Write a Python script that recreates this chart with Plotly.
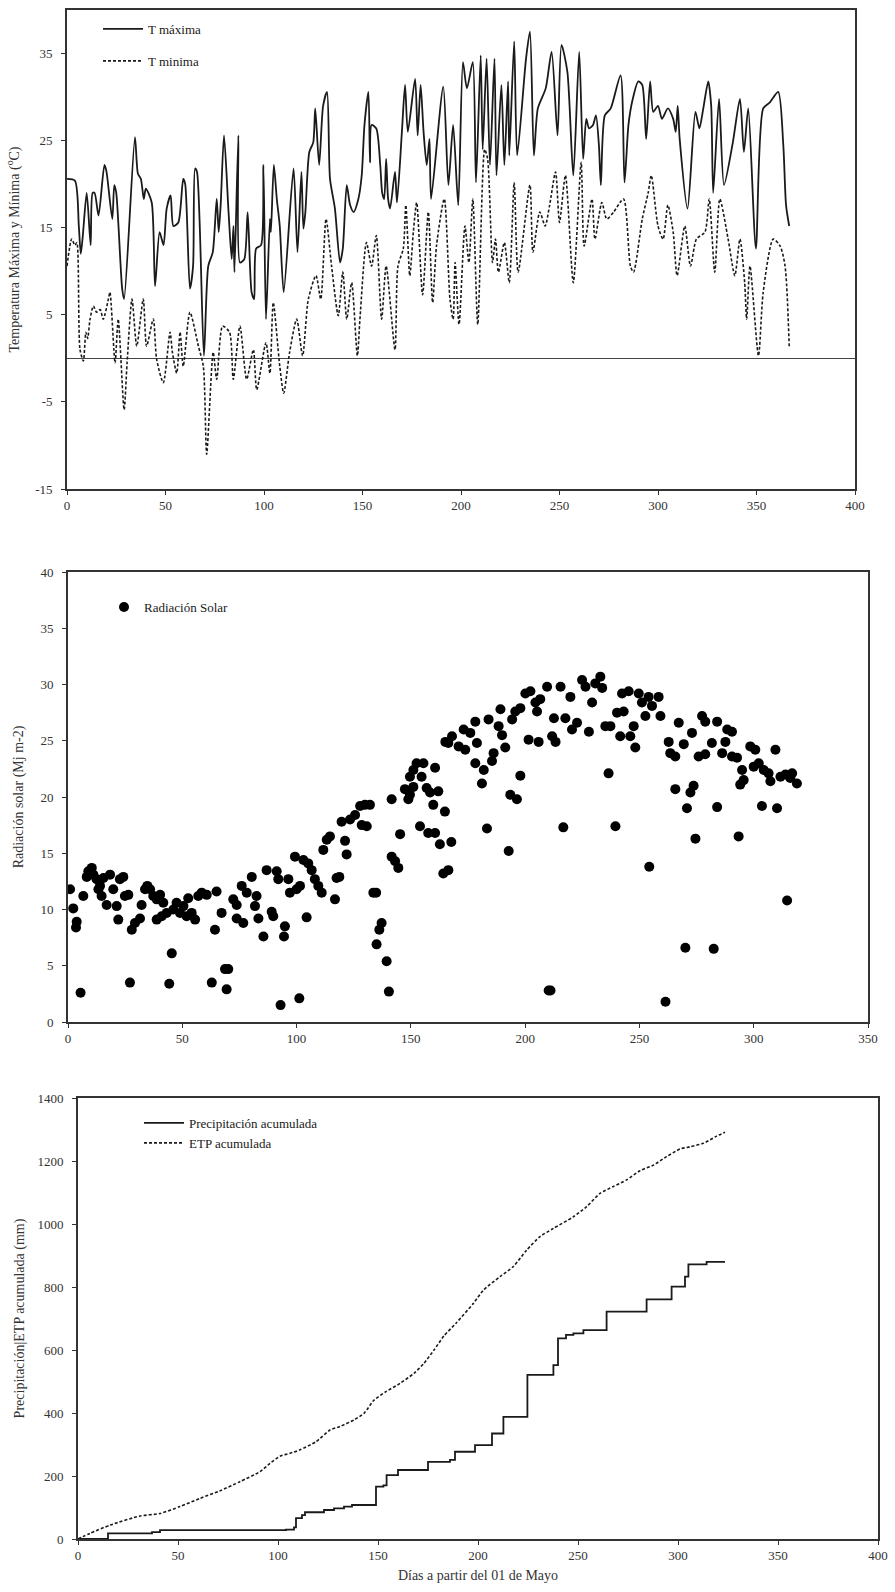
import plotly.graph_objects as go

# ---------------- Data ----------------
tmax_day = [0,4,6,7,8,10,12,13,14,16,19,20,23,24,25,28,29,34.5,36,37.5,39,40,43,44.7,47,49,50.6,52.6,54,56.5,59,60,62.4,64,65,66,69.5,71.7,74,76,77,78,79.7,82,83.6,84.5,85,87,87.8,90,91.7,93.7,95,96,98.5,99.7,101,103,103.5,105,106.5,108,110,115,117,119,120,121,123,125,126,128,130,132,133.5,136,138.6,140,142,143.7,145.5,147.9,149.6,151,153,153.8,154.6,157,159,160,161,162,163,164,166.5,167.5,170,171.6,173,176.7,178,179.5,181,182.6,184,184.8,191,193.6,196,198.6,201,203,206,207.6,210,211,213,214.7,217,218,220.5,222,223.9,224.5,227,228.5,233,235,237,239,243,246,249,251,254,257,260,262,263.6,265,267,268.5,270,271,273,276,281,283,285,287,290,292,294,296,297.6,300,302,305,307.7,309,310,311,315,319,321,323,325.5,327,328,331,333.5,338,341.6,343.6,345.8,349.7,353.4,356.8,361,363.6,365,366.6]
tmax = [20.6,20.4,15.2,12,14,19,13,19,19,16.4,22.2,21.5,16,19.9,19,8,6.8,25.4,21.2,20.6,18.3,19.5,17.9,8.3,14.5,13,17.2,18.7,15.2,15.6,20.6,20,8,10.6,21.8,21.4,0.3,10.6,12.2,18.3,14.5,17.6,25.6,16.8,11.4,15.2,9.9,25.6,11,11.4,16.8,7.6,6.8,12.6,13,22.2,4.5,16,14.5,22.2,18.3,15.2,7.6,21.8,12.2,21.4,14.9,16.8,23.7,24.8,28.7,22.2,29,30.6,20.6,17.2,11,12.6,19.9,17.6,16.8,18.3,21,26.8,30.6,22.5,26.8,26.4,22.2,19,18.3,22.9,18.3,17.2,21.4,17.9,26,31.4,26,32.1,25.6,31.4,26,22.2,25.2,18.3,31.2,19.9,26.8,17.6,34,31,34,20.2,34.8,24,34.4,22.2,34.4,21,31.4,22.2,31.8,23.3,36.4,23.3,34.4,37.5,23.3,28.7,31,35.2,25.6,36,32.9,21,35.2,22.9,27.5,26.4,26.8,27.9,24.5,19.9,27.9,28.7,32.5,20.2,26.8,29.6,31.8,31.4,25.2,31.8,28.3,29,27.5,28.7,27.5,26,29,25.2,17.2,28.3,26.4,28.7,31.8,29,19,29.8,19.9,24.8,29.8,23.7,28.7,12.6,28.7,29.4,30.6,24.5,17.6,15.2]

tmin_day = [0,2.4,4,5,6.6,8.3,9.6,10.5,11.7,13.4,15,16.8,18.4,21,21.8,24.4,26,29,30.5,33,35.4,38.7,40.4,43.8,45.5,48.9,52.3,53.5,55.7,57.4,59,62.4,66.7,69.2,70.9,74.2,76,79,82.5,84.4,87.8,91.2,94.6,96.3,101,103,104.7,108,110,113,116.6,119.6,122.5,126.4,128.8,131.5,134.3,137.7,140,142,144.5,147.4,148.7,152,154.6,157,159.7,162,166.5,168,170.7,172,174,175.8,177.5,180.5,183.4,185.6,187.6,191.5,194.4,196,197,199,202,204,206,208.5,212,213.5,216,217.5,219,222,224.5,227,229,235,236.5,240,242.7,245,248,250,253,257,261,262.5,266.5,268,271.5,274,277.5,282.5,286,287.6,292,295,296.6,300,302.6,305,307.7,309.7,313.6,316.5,319.5,323.8,326,328.8,331.4,335.6,339,341.6,344,345,346.7,351,353.4,358.5,362,364.5,366.6]
tmin = [10.6,13.7,13,13.3,1,-0.3,3,2.3,4.5,6,5.3,5.6,4.5,6.8,7.6,-0.5,4.5,-5.9,-0.5,6.8,1.4,6.8,1.4,4.5,-0.1,-2.8,3,0.7,-1.7,3,-0.9,5.3,1.4,-0.9,-11,0.7,-2.4,3.7,3,-2.4,3.7,-2.4,1,-3.6,1.8,-1.7,6.4,-0.9,-4,0.7,4.5,0.3,6.8,9.5,6.8,16,10.6,4.9,9.9,4.5,8.7,0.3,4.5,13.3,10.6,14.1,4.5,10.6,1,10.6,12.6,17.6,9.5,14.5,17.9,7.3,16.8,6.4,13,18.3,6.8,4.5,11,3.9,15.2,11,18.3,3.9,24,22.9,11,13.7,9.9,13.3,8.7,20.2,9.9,19.9,12.2,16.8,15.2,17.6,21.4,15.6,21,8.7,22.5,12.9,18.3,13.7,17.9,16,16.8,18.3,10.6,9.9,16,19,21,15.2,13.7,17.6,14.5,9.5,15.2,10.6,13.7,14.5,18.3,9.9,18.3,13.7,9.5,13.7,8.7,4.5,10.6,0.3,7.6,13.7,12.9,10.6,1.4]
temp_ticks = [-15, -5, 5, 15, 25, 35]
temp_tick_text = ["-15", "-5", "5", "15", "25", "35"]

rad_day = [0.9,2.3,3.5,3.8,5.5,6.7,8.2,8.9,10.4,11.1,12.5,13.3,14,14.7,15.5,16.9,18.4,19.8,21.3,22,22.7,24.2,24.9,26.4,27.1,27.9,29.3,31.5,32.2,33.7,34.7,35.9,37.3,38.8,38.8,40.3,41,41.7,43.2,44.3,45.4,46.1,47.5,49,50.5,51.9,52.6,54.1,55.6,57,58.5,60.7,62.9,64.3,65,67.2,68.7,69.4,70.1,72.3,73.8,73.8,76,76.7,78.2,80.4,81.8,82.5,83.3,85.5,86.9,89.1,89.8,91.3,92,93,94.5,94.9,96.4,97.1,99.3,100,101.2,101.5,103,104.4,105.1,106.6,108,109.5,111,111.7,113.2,114.6,116.8,117.5,118.7,119.7,121.2,121.9,123.4,125.6,127.8,128.5,129.9,130.7,132.1,133.6,134.8,135,136.2,137.2,139.4,140.4,141.6,141.6,143.1,144.5,145.3,147.4,148.9,149.6,149.6,151.1,151.1,152.5,154,154.7,155.5,156.9,157.6,158.4,159.8,160.6,160.6,162,162.7,164.2,164.9,165.1,166.4,166.4,167.7,168,170.9,173.1,173.8,176,178.2,178.2,178.9,181.1,181.9,183.3,184,185.5,186.2,188.4,189.2,189.9,191.3,192.8,193.5,194.3,195.7,196.4,197.9,197.9,200.1,201.5,202.3,204.5,205.2,205.9,206.6,209.6,210.3,211.1,211.8,212.6,213.3,215.5,216.7,217.6,219.8,220.5,222.7,224.9,226.4,227.9,229.3,230.7,232.9,233.7,235.1,236.5,237.3,239.5,240.2,241.6,242.4,243.1,245.3,246,247.5,248.2,249.7,251.1,252.6,254,254.3,255.5,258.4,259.2,261.4,262.8,263.5,265.7,265.7,267.2,269.4,270.1,270.8,272.3,273,273.7,274.5,275.9,277.4,278.8,278.8,281.7,282.5,284,284,286.2,287.6,288.4,290.5,290.5,292.7,293.4,294.1,294.9,295.6,298.5,300,300.7,302.2,303.6,304.4,306.5,307.3,309.5,310.2,311.7,313.9,314.6,316,316.8,318.9]
rad_val = [11.8,10.1,8.4,8.9,2.6,11.2,12.9,13.4,13.7,13.1,12.7,11.8,12.1,11.2,12.8,10.4,13.1,11.8,10.3,9.1,12.7,12.9,11.2,11.3,3.5,8.2,8.8,9.2,10.4,11.8,12.1,11.8,11.2,10.9,9.1,11.3,9.4,10.6,9.7,3.4,6.1,10,10.6,9.7,10.3,9.4,11,9.7,9.1,11.2,11.5,11.3,3.5,8.2,11.6,9.7,4.7,2.9,4.7,10.9,10.4,9.2,12.1,8.8,11.5,12.9,10.3,11.2,9.2,7.6,13.5,9.8,9.4,13.4,12.7,1.5,7.6,8.5,12.7,11.5,14.7,11.8,2.1,12.1,14.4,9.3,14.1,13.5,12.7,12.1,11.5,15.3,16.2,16.5,10.9,12.8,12.9,17.8,16.1,14.9,18,18.4,19.2,17.5,19.3,17.4,19.3,11.5,11.5,6.9,8.2,8.8,5.4,2.7,14.7,19.8,14.3,13.7,16.7,20.7,19.8,20.2,21.8,22.4,20.9,23,17.4,21.8,23,20.8,16.8,20.4,19.3,22.6,16.8,20.5,15.8,13.2,18.7,24.9,24.8,13.5,16,25.4,24.5,26,24.2,25.7,26.7,23,24.8,21.2,22.4,17.2,26.9,23.2,23.9,26.3,27.8,25.5,24.4,15.2,20.2,26.9,27.6,19.8,27.9,21.9,29.2,25.1,29.4,28.4,27.6,24.9,28.7,29.8,2.8,2.8,25.4,27,24.9,29.8,17.3,27,28.9,26,26.6,30.4,29.8,25.8,28.4,30.1,30.7,29.7,26.3,22.1,26.3,17.4,27.5,25.4,29.2,27.6,29.4,25.4,26.3,24.4,29.2,28.4,27.2,28.9,13.8,28.1,28.9,27.2,1.8,24.9,23.9,20.7,23.6,26.6,24.7,6.6,19,20.4,25.7,21,16.3,23.6,27.2,26.7,23.8,24.8,6.5,26.7,19.1,23.9,24.9,26,25.8,23.6,23.5,16.5,21.1,22.4,21.5,24.5,22.7,24.2,23,19.2,22.4,22.1,21.4,24.2,19,21.8,22,10.8,21.7,22.1,21.2]

prec_day = [0,15,37,41,104,108,109,112,113.5,123,128,133,137,149,152.7,154.3,160,173,175,186,188.5,198.5,207,212.7,224.7,237.7,240,244,247.7,252.7,264.3,284.3,296.8,303.5,305.2,314.3,323.5]
prec = [0,18,22,28,30,37,66,76,85,92,97,103,108,166,170,203,219,219,245,251,277,298,335,388,521,552,637,648,653,663,722,761,801,833,872,880,880]

etp_day = [0,6,16,31,41,51,61,71,81,91,96,101,106,111,119,126,131,138,143,148,154,161,168,173,178,183,189,197.7,202.7,211,217.7,224.3,231,237.7,247.7,254.3,261,267.7,274.3,281,287.7,294.3,301,306,312.7,319.3,323.5]
etp = [0,18,44,73,81,103,129,153,182,214,240,263,272,283,309,346,357,378,399,441,468,494,526,558,600,645,685,748,790,833,865,917,960,986,1023,1055,1097,1119,1140,1169,1187,1214,1238,1245,1256,1279,1291]

# ---------------- Figure ----------------
W, H = 895, 1592
FONT = "Liberation Serif, Times New Roman, serif"
INK = "#1a1a1a"
DASH = "3px,2px"

def px_x(a, b):
    return [a / W, b / W]

def px_y(top, bottom):
    return [1 - bottom / H, 1 - top / H]

fig = go.Figure()

fig.add_trace(go.Scatter(x=tmax_day, y=tmax, mode="lines", name="T máxima",
                         line=dict(color=INK, width=1.8, shape="spline", smoothing=0.7),
                         xaxis="x", yaxis="y", legend="legend", legendgroup="a"))
fig.add_trace(go.Scatter(x=tmin_day, y=tmin, mode="lines", name="T minima",
                         line=dict(color=INK, width=1.6, dash=DASH, shape="spline", smoothing=0.7),
                         xaxis="x", yaxis="y", legend="legend", legendgroup="b"))

fig.add_trace(go.Scatter(x=rad_day, y=rad_val, mode="markers", name="Radiación Solar",
                         marker=dict(color="#000000", size=10),
                         xaxis="x2", yaxis="y2", legend="legend2"))

fig.add_trace(go.Scatter(x=prec_day, y=prec, mode="lines", name="Precipitación acumulada",
                         line=dict(color=INK, width=1.8, shape="hv"),
                         xaxis="x3", yaxis="y3", legend="legend3"))
fig.add_trace(go.Scatter(x=etp_day, y=etp, mode="lines", name="ETP acumulada",
                         line=dict(color=INK, width=1.6, dash=DASH, shape="spline", smoothing=0.6),
                         xaxis="x3", yaxis="y3", legend="legend3"))

axis_common = dict(showline=True, linecolor="#333333", linewidth=1.6, mirror=True,
                   showgrid=False, ticks="outside", ticklen=4, tickcolor="#333333",
                   tickfont=dict(family=FONT, size=13, color="#333333"),
                   automargin=False)

fig.update_layout(
    width=W, height=H,
    margin=dict(l=0, r=0, t=0, b=0),
    paper_bgcolor="white", plot_bgcolor="white",
    font=dict(family=FONT, color=INK),
    xaxis=dict(domain=px_x(67, 855), range=[0, 400], dtick=50, tick0=0,
               zeroline=False, anchor="y", **axis_common),
    yaxis=dict(domain=px_y(10, 489), range=[-15, 40],
               tickmode="array", tickvals=temp_ticks, ticktext=temp_tick_text,
               zeroline=True, zerolinecolor="#444444", zerolinewidth=1.2,
               anchor="x", ticklabelstandoff=6,
               title=dict(text="Temperatura Máxima y Mínima (<sup>o</sup>C)",
                          font=dict(family=FONT, size=14, color="#333333"), standoff=12),
               **axis_common),
    xaxis2=dict(domain=px_x(68, 868), range=[0, 350], dtick=50, tick0=0,
                zeroline=False, anchor="y2", **axis_common),
    yaxis2=dict(domain=px_y(572, 1022), range=[0, 40], dtick=5, tick0=0,
                zeroline=False, anchor="x2", ticklabelstandoff=6,
                title=dict(text="Radiación solar (Mj m-2)",
                           font=dict(family=FONT, size=14, color="#333333"), standoff=14),
                **axis_common),
    xaxis3=dict(domain=px_x(78, 878), range=[0, 400], dtick=50, tick0=0,
                zeroline=False, anchor="y3",
                title=dict(text="Días a partir del 01 de Mayo",
                           font=dict(family=FONT, size=14, color="#333333"), standoff=8),
                **axis_common),
    yaxis3=dict(domain=px_y(1098, 1539), range=[0, 1400], dtick=200, tick0=0,
                zeroline=False, anchor="x3", ticklabelstandoff=6,
                title=dict(text="Precipitación|ETP acumulada (mm)",
                           font=dict(family=FONT, size=14, color="#333333"), standoff=10),
                **axis_common),
    legend=dict(x=98 / W, y=1 - 14 / H, xanchor="left", yanchor="top",
                bgcolor="rgba(0,0,0,0)", font=dict(family=FONT, size=13, color=INK),
                traceorder="grouped", tracegroupgap=12, itemwidth=40),
    legend2=dict(x=104 / W, y=1 - 592 / H, xanchor="left", yanchor="top",
                 bgcolor="rgba(0,0,0,0)", font=dict(family=FONT, size=13, color=INK),
                 itemwidth=30),
    legend3=dict(x=139 / W, y=1 - 1108 / H, xanchor="left", yanchor="top",
                 bgcolor="rgba(0,0,0,0)", font=dict(family=FONT, size=13, color=INK),
                 itemwidth=40),
)

fig.write_html("out.html")
